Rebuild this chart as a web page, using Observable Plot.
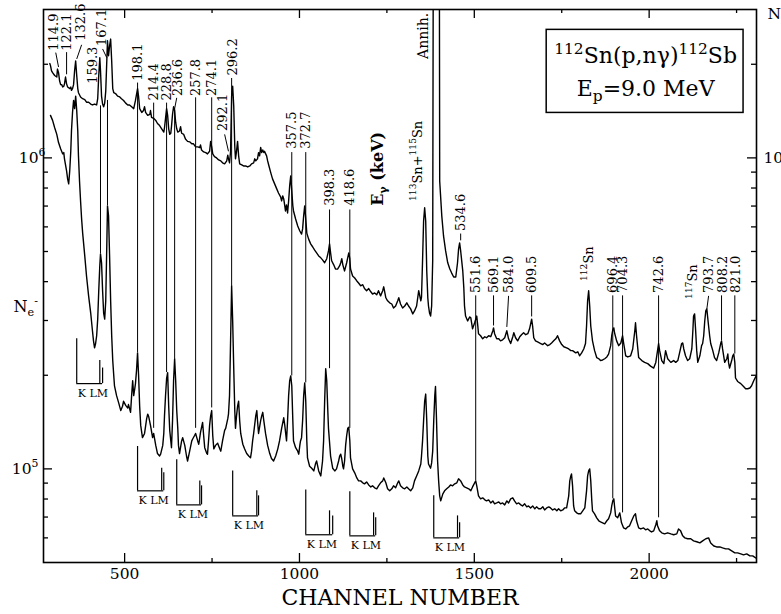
<!DOCTYPE html>
<html><head><meta charset="utf-8">
<script src="https://cdn.jsdelivr.net/npm/d3@7"></script>
<script src="https://cdn.jsdelivr.net/npm/@observablehq/plot@0.6"></script>
<style>body{margin:0;background:#fff;}</style>
</head><body>
<div id="chart"></div>
<script>
// ---------------- DATA ----------------
// gamma-ray spectrum (upper trace): [channel, counts]
const gammaSpectrum = [[286,2.01e6],[288,1.98e6],[291,1.905e6],[294,1.88e6],[300,1.84e6],[306,1.82e6],[308,1.93e6],[311,1.88e6],[314,1.77e6],[317,1.72e6],[320,1.72e6],[323,1.69e6],[326,1.70e6],[328,1.73e6],[331,1.82e6],[334,1.73e6],[337,1.69e6],[340,1.68e6],[343,1.67e6],[346,1.69e6],[348,1.65e6],[351,1.67e6],[354,1.72e6],[357,1.91e6],[360,2.05e6],[363,1.84e6],[366,1.67e6],[368,1.62e6],[374,1.57e6],[380,1.55e6],[386,1.54e6],[391,1.51e6],[397,1.51e6],[403,1.49e6],[408,1.48e6],[414,1.49e6],[420,1.48e6],[423,1.55e6],[426,1.84e6],[429,2.10e6],[431,1.91e6],[434,1.58e6],[437,1.49e6],[440,1.46e6],[443,1.50e6],[446,1.64e6],[449,2.05e6],[451,2.38e6],[454,2.13e6],[457,2.29e6],[460,2.41e6],[463,2.05e6],[466,1.67e6],[469,1.62e6],[474,1.61e6],[480,1.58e6],[486,1.57e6],[491,1.55e6],[497,1.53e6],[503,1.50e6],[509,1.48e6],[514,1.48e6],[520,1.46e6],[526,1.44e6],[531,1.53e6],[537,1.67e6],[540,1.57e6],[543,1.44e6],[549,1.40e6],[554,1.42e6],[557,1.46e6],[560,1.40e6],[566,1.37e6],[572,1.38e6],[574,1.42e6],[577,1.35e6],[583,1.34e6],[589,1.32e6],[594,1.29e6],[600,1.27e6],[606,1.24e6],[612,1.21e6],[614,1.25e6],[617,1.34e6],[620,1.44e6],[623,1.37e6],[626,1.24e6],[629,1.19e6],[632,1.20e6],[634,1.26e6],[637,1.38e6],[640,1.46e6],[643,1.42e6],[646,1.30e6],[649,1.24e6],[652,1.21e6],[657,1.22e6],[660,1.26e6],[663,1.20e6],[669,1.19e6],[674,1.15e6],[680,1.13e6],[686,1.126e6],[692,1.11e6],[697,1.11e6],[703,1.085e6],[709,1.085e6],[715,1.08e6],[717,1.10e6],[720,1.06e6],[726,1.045e6],[732,1.04e6],[737,1.03e6],[743,1.05e6],[746,1.13e6],[749,1.085e6],[752,1.03e6],[757,1.01e6],[763,1.00e6],[769,9.85e5],[775,9.78e5],[780,9.64e5],[786,9.57e5],[792,9.78e5],[795,1.02e6],[797,9.93e5],[800,9.64e5],[803,1.05e6],[806,1.58e6],[809,1.70e6],[812,1.47e6],[815,1.09e6],[817,9.93e5],[820,1.05e6],[823,1.13e6],[826,1.015e6],[829,9.57e5],[835,9.49e5],[840,9.42e5],[846,9.42e5],[852,9.35e5],[858,9.42e5],[863,9.57e5],[869,9.64e5],[872,9.93e5],[875,9.78e5],[880,9.93e5],[883,1.04e6],[886,1.015e6],[889,1.08e6],[892,1.04e6],[895,1.06e6],[898,1.04e6],[900,1.05e6],[906,1.015e6],[909,9.78e5],[912,9.49e5],[918,8.95e5],[923,8.56e5],[929,8.25e5],[935,7.95e5],[940,7.71e5],[946,7.49e5],[949,7.27e5],[952,7.55e5],[955,7.38e5],[958,7.01e5],[960,6.75e5],[963,7.06e5],[966,6.65e5],[969,7.27e5],[972,8.13e5],[975,8.75e5],[978,7.83e5],[981,7.01e5],[983,6.75e5],[989,6.36e5],[995,6.04e5],[1001,5.82e5],[1006,5.69e5],[1009,5.91e5],[1012,6.51e5],[1015,7.01e5],[1018,6.36e5],[1021,5.73e5],[1026,5.49e5],[1032,5.29e5],[1038,5.17e5],[1043,5.06e5],[1049,4.95e5],[1055,4.84e5],[1061,4.77e5],[1066,4.70e5],[1072,4.60e5],[1078,4.74e5],[1083,5.02e5],[1086,5.29e5],[1089,4.95e5],[1092,4.67e5],[1098,4.53e5],[1103,4.39e5],[1109,4.39e5],[1115,4.50e5],[1118,4.60e5],[1121,4.74e5],[1124,4.53e5],[1129,4.33e5],[1135,4.60e5],[1141,4.95e5],[1144,4.74e5],[1146,4.39e5],[1152,4.17e5],[1158,4.11e5],[1164,4.02e5],[1169,3.96e5],[1175,3.88e5],[1181,3.91e5],[1186,3.80e5],[1192,3.74e5],[1198,3.80e5],[1204,3.71e5],[1209,3.65e5],[1215,3.68e5],[1221,3.63e5],[1226,3.74e5],[1232,3.60e5],[1238,3.74e5],[1241,3.85e5],[1247,3.55e5],[1252,3.47e5],[1258,3.42e5],[1264,3.39e5],[1269,3.29e5],[1275,3.34e5],[1281,3.47e5],[1284,3.55e5],[1289,3.39e5],[1295,3.29e5],[1301,3.34e5],[1307,3.42e5],[1312,3.34e5],[1318,3.27e5],[1324,3.15e5],[1329,3.22e5],[1335,3.34e5],[1341,3.74e5],[1344,3.60e5],[1347,3.47e5],[1349,3.57e5],[1352,4.67e5],[1355,6.27e5],[1358,6.91e5],[1361,6.27e5],[1364,4.33e5],[1367,3.55e5],[1369,3.34e5],[1372,3.17e5],[1375,3.10e5],[1378,3.34e5],[1381,4.67e5],[1384,3e7],[1399,3e7],[1401,8.43e5],[1407,6.51e5],[1412,5.61e5],[1418,5.02e5],[1424,4.60e5],[1430,4.39e5],[1435,4.27e5],[1441,4.14e5],[1447,4.14e5],[1452,4.60e5],[1455,5.09e5],[1458,5.33e5],[1461,5.02e5],[1467,4.33e5],[1470,3.82e5],[1472,3.34e5],[1475,3.10e5],[1481,2.99e5],[1487,3.08e5],[1490,3.06e5],[1495,2.82e5],[1501,2.95e5],[1507,3.10e5],[1510,2.88e5],[1512,2.72e5],[1518,2.68e5],[1524,2.62e5],[1530,2.66e5],[1535,2.64e5],[1541,2.68e5],[1547,2.66e5],[1553,2.78e5],[1555,2.84e5],[1558,2.72e5],[1564,2.62e5],[1570,2.62e5],[1575,2.58e5],[1581,2.60e5],[1587,2.64e5],[1593,2.78e5],[1598,2.62e5],[1604,2.53e5],[1610,2.66e5],[1613,2.74e5],[1618,2.64e5],[1624,2.58e5],[1630,2.66e5],[1635,2.70e5],[1641,2.74e5],[1647,2.70e5],[1653,2.72e5],[1658,2.82e5],[1664,3.03e5],[1667,2.86e5],[1670,2.64e5],[1675,2.58e5],[1681,2.56e5],[1690,2.53e5],[1696,2.51e5],[1701,2.54e5],[1710,2.49e5],[1716,2.51e5],[1721,2.54e5],[1727,2.58e5],[1733,2.62e5],[1738,2.68e5],[1744,2.58e5],[1750,2.51e5],[1756,2.47e5],[1764,2.45e5],[1770,2.43e5],[1776,2.40e5],[1781,2.40e5],[1790,2.36e5],[1796,2.38e5],[1801,2.31e5],[1807,2.36e5],[1813,2.43e5],[1818,2.53e5],[1821,2.88e5],[1824,3.47e5],[1827,3.74e5],[1830,3.34e5],[1833,2.88e5],[1838,2.58e5],[1844,2.40e5],[1850,2.28e5],[1856,2.26e5],[1861,2.23e5],[1867,2.24e5],[1873,2.26e5],[1879,2.29e5],[1884,2.34e5],[1890,2.49e5],[1893,2.68e5],[1896,2.80e5],[1899,2.84e5],[1901,2.74e5],[1907,2.58e5],[1913,2.49e5],[1919,2.54e5],[1924,2.68e5],[1927,2.54e5],[1933,2.31e5],[1939,2.29e5],[1947,2.31e5],[1953,2.43e5],[1959,2.78e5],[1961,2.95e5],[1964,2.68e5],[1970,2.28e5],[1979,2.23e5],[1987,2.20e5],[1996,2.18e5],[2004,2.14e5],[2013,2.11e5],[2019,2.20e5],[2024,2.40e5],[2027,2.53e5],[2030,2.40e5],[2036,2.23e5],[2042,2.18e5],[2047,2.40e5],[2053,2.26e5],[2062,2.20e5],[2070,2.23e5],[2076,2.20e5],[2082,2.23e5],[2087,2.36e5],[2093,2.53e5],[2096,2.54e5],[2099,2.43e5],[2104,2.31e5],[2110,2.23e5],[2116,2.26e5],[2122,2.43e5],[2125,2.78e5],[2127,3.10e5],[2130,3.15e5],[2133,2.78e5],[2136,2.40e5],[2139,2.20e5],[2145,2.31e5],[2150,2.49e5],[2153,2.53e5],[2156,2.68e5],[2159,2.99e5],[2162,3.22e5],[2165,3.27e5],[2167,3.10e5],[2170,2.88e5],[2173,2.68e5],[2176,2.53e5],[2182,2.40e5],[2187,2.28e5],[2193,2.23e5],[2199,2.36e5],[2205,2.54e5],[2207,2.58e5],[2210,2.43e5],[2216,2.20e5],[2222,2.26e5],[2225,2.34e5],[2227,2.20e5],[2230,2.11e5],[2236,2.23e5],[2239,2.31e5],[2242,2.34e5],[2245,2.20e5],[2247,1.96e5],[2253,1.91e5],[2262,1.88e5],[2270,1.84e5],[2276,1.81e5],[2282,1.81e5],[2288,1.82e5],[2293,1.85e5],[2299,1.92e5],[2305,1.98e5]];

// conversion-electron spectrum (lower trace): [channel, counts]
const electronSpectrum = [[288,1.37e6],[294,1.32e6],[300,1.25e6],[306,1.19e6],[311,1.12e6],[317,1.07e6],[323,1.03e6],[326,1.04e6],[328,9.93e5],[334,9.08e5],[337,8.56e5],[340,8.25e5],[343,9.08e5],[346,1.05e6],[348,1.22e6],[351,1.40e6],[354,1.53e6],[357,1.44e6],[360,1.58e6],[363,1.42e6],[366,1.22e6],[368,1.015e6],[371,8.43e5],[374,7.27e5],[377,6.36e5],[380,5.73e5],[386,4.84e5],[391,4.17e5],[397,3.60e5],[403,3.17e5],[408,2.78e5],[411,2.58e5],[414,2.45e5],[417,2.53e5],[420,2.68e5],[423,3.03e5],[426,3.74e5],[429,4.50e5],[431,4.91e5],[434,4.60e5],[437,3.74e5],[440,3.17e5],[443,3.03e5],[446,3.47e5],[449,5.21e5],[451,7.01e5],[454,6.51e5],[457,4.84e5],[460,3.47e5],[463,2.68e5],[466,2.23e5],[469,1.99e5],[471,1.85e5],[477,1.72e5],[483,1.63e5],[489,1.54e5],[494,1.59e5],[497,1.65e5],[503,1.60e5],[509,1.57e5],[511,1.61e5],[517,1.52e5],[520,1.72e5],[523,1.92e5],[526,1.72e5],[529,1.81e5],[531,1.88e5],[534,2.07e5],[537,2.36e5],[540,1.99e5],[543,1.59e5],[546,1.38e5],[551,1.26e5],[557,1.30e5],[563,1.45e5],[566,1.50e5],[569,1.47e5],[574,1.38e5],[580,1.26e5],[583,1.30e5],[589,1.19e5],[594,1.12e5],[600,1.10e5],[603,1.115e5],[609,1.19e5],[612,1.30e5],[614,1.48e5],[617,1.72e5],[620,1.95e5],[623,2.04e5],[626,1.59e5],[629,1.33e5],[634,1.17e5],[637,1.43e5],[640,1.92e5],[643,2.26e5],[646,1.92e5],[649,1.54e5],[652,1.35e5],[654,1.19e5],[657,1.12e5],[663,1.23e5],[666,1.26e5],[672,1.19e5],[677,1.10e5],[680,1.06e5],[686,1.14e5],[692,1.23e5],[695,1.25e5],[700,1.28e5],[703,1.30e5],[709,1.23e5],[712,1.20e5],[717,1.31e5],[723,1.41e5],[726,1.28e5],[729,1.17e5],[735,1.12e5],[737,1.115e5],[740,1.23e5],[743,1.38e5],[746,1.48e5],[749,1.54e5],[752,1.28e5],[755,1.16e5],[760,1.19e5],[766,1.21e5],[772,1.16e5],[775,1.14e5],[780,1.23e5],[786,1.33e5],[789,1.35e5],[795,1.45e5],[797,1.50e5],[800,1.72e5],[803,2.58e5],[806,3.88e5],[809,2.99e5],[812,2.11e5],[815,1.54e5],[817,1.35e5],[820,1.48e5],[823,1.59e5],[826,1.65e5],[829,1.43e5],[832,1.30e5],[838,1.20e5],[843,1.16e5],[849,1.12e5],[855,1.10e5],[860,1.085e5],[863,1.14e5],[866,1.23e5],[869,1.30e5],[875,1.48e5],[878,1.54e5],[880,1.43e5],[883,1.30e5],[889,1.43e5],[892,1.48e5],[895,1.52e5],[898,1.43e5],[903,1.30e5],[909,1.19e5],[915,1.12e5],[920,1.08e5],[926,1.06e5],[932,1.10e5],[938,1.16e5],[943,1.23e5],[949,1.35e5],[955,1.46e5],[958,1.38e5],[963,1.23e5],[966,1.43e5],[969,1.72e5],[972,1.92e5],[975,1.99e5],[978,1.85e5],[981,1.43e5],[983,1.23e5],[989,1.17e5],[995,1.14e5],[998,1.115e5],[1001,1.19e5],[1003,1.23e5],[1006,1.26e5],[1009,1.43e5],[1012,1.72e5],[1015,1.89e5],[1018,1.65e5],[1021,1.23e5],[1023,1.085e5],[1029,1.02e5],[1035,1.005e5],[1041,9.85e4],[1046,1.04e5],[1049,1.06e5],[1055,9.85e4],[1061,9.49e4],[1066,1.06e5],[1069,1.23e5],[1072,1.65e5],[1075,2.10e5],[1078,1.92e5],[1081,1.54e5],[1083,1.35e5],[1089,1.10e5],[1095,1.005e5],[1101,9.85e4],[1106,1.00e5],[1112,1.06e5],[1115,1.10e5],[1118,1.115e5],[1121,1.076e5],[1124,1.02e5],[1126,1.00e5],[1129,1.06e5],[1132,1.19e5],[1135,1.28e5],[1138,1.35e5],[1141,1.36e5],[1144,1.23e5],[1146,1.085e5],[1152,1.00e5],[1158,9.71e4],[1164,9.35e4],[1169,9.15e4],[1175,9.15e4],[1181,9.02e4],[1186,8.95e4],[1192,9.08e4],[1198,8.88e4],[1204,8.75e4],[1209,8.82e4],[1215,8.69e4],[1221,8.63e4],[1226,8.82e4],[1232,9.02e4],[1238,9.15e4],[1241,9.35e4],[1247,9.02e4],[1252,8.63e4],[1258,8.50e4],[1264,8.63e4],[1269,8.82e4],[1275,8.69e4],[1281,9.02e4],[1284,9.15e4],[1289,8.82e4],[1295,8.69e4],[1301,8.63e4],[1307,8.75e4],[1312,8.63e4],[1318,8.50e4],[1324,8.69e4],[1329,9.15e4],[1335,9.49e4],[1341,9.85e4],[1347,1.037e5],[1349,1.10e5],[1352,1.23e5],[1355,1.43e5],[1358,1.65e5],[1361,1.74e5],[1364,1.43e5],[1367,1.10e5],[1369,1.037e5],[1375,1.005e5],[1378,1.045e5],[1381,1.14e5],[1384,1.43e5],[1387,1.72e5],[1389,1.84e5],[1392,1.43e5],[1395,1.06e5],[1398,9.15e4],[1401,8.19e4],[1404,7.89e4],[1410,8.31e4],[1415,8.50e4],[1421,8.63e4],[1427,8.75e4],[1432,8.88e4],[1438,8.82e4],[1444,8.95e4],[1450,9.02e4],[1455,9.29e4],[1461,9.15e4],[1467,8.88e4],[1472,8.75e4],[1478,8.69e4],[1484,8.63e4],[1490,8.50e4],[1495,8.75e4],[1501,9.02e4],[1504,9.15e4],[1507,8.82e4],[1512,8.19e4],[1518,8.01e4],[1524,8.07e4],[1530,7.95e4],[1535,7.89e4],[1541,7.95e4],[1547,7.77e4],[1553,7.89e4],[1558,7.72e4],[1564,7.77e4],[1570,7.83e4],[1575,7.72e4],[1581,7.77e4],[1587,7.66e4],[1593,7.89e4],[1598,7.77e4],[1604,8.01e4],[1610,8.07e4],[1615,7.89e4],[1621,7.72e4],[1627,7.77e4],[1633,7.66e4],[1638,7.60e4],[1644,7.72e4],[1650,7.55e4],[1655,7.60e4],[1661,7.49e4],[1667,7.60e4],[1673,7.44e4],[1678,7.55e4],[1684,7.44e4],[1690,7.44e4],[1696,7.55e4],[1701,7.38e4],[1707,7.49e4],[1713,7.55e4],[1718,7.49e4],[1724,7.38e4],[1730,7.44e4],[1736,7.33e4],[1741,7.44e4],[1747,7.33e4],[1753,7.38e4],[1758,7.49e4],[1764,7.49e4],[1770,8.19e4],[1773,9.15e4],[1776,9.49e4],[1778,9.63e4],[1781,8.82e4],[1784,7.60e4],[1787,7.33e4],[1793,7.22e4],[1798,7.17e4],[1804,7.17e4],[1810,7.33e4],[1816,7.49e4],[1821,8.50e4],[1824,9.49e4],[1827,9.85e4],[1830,1.00e5],[1833,9.15e4],[1836,7.89e4],[1838,7.33e4],[1844,7.17e4],[1850,6.96e4],[1856,6.81e4],[1861,6.76e4],[1867,6.71e4],[1873,6.66e4],[1879,6.81e4],[1884,6.91e4],[1890,7.22e4],[1893,7.60e4],[1896,7.89e4],[1899,8.01e4],[1901,7.60e4],[1904,7.06e4],[1910,6.96e4],[1916,7.22e4],[1919,6.91e4],[1921,6.71e4],[1927,6.46e4],[1933,6.41e4],[1939,6.51e4],[1944,6.56e4],[1950,6.81e4],[1956,7.06e4],[1961,7.17e4],[1964,6.81e4],[1970,6.46e4],[1976,6.41e4],[1984,6.46e4],[1990,6.37e4],[1996,6.41e4],[2002,6.32e4],[2007,6.27e4],[2013,6.32e4],[2019,6.61e4],[2022,6.81e4],[2024,6.56e4],[2030,6.32e4],[2036,6.23e4],[2044,6.18e4],[2053,6.23e4],[2062,6.18e4],[2070,6.14e4],[2079,6.18e4],[2084,6.41e4],[2090,6.32e4],[2096,6.09e4],[2102,6.00e4],[2110,5.96e4],[2119,5.96e4],[2127,5.87e4],[2136,5.83e4],[2145,5.78e4],[2153,5.87e4],[2162,5.96e4],[2170,6.00e4],[2176,5.78e4],[2185,5.65e4],[2193,5.61e4],[2202,5.61e4],[2210,5.57e4],[2219,5.53e4],[2227,5.53e4],[2236,5.45e4],[2245,5.37e4],[2253,5.37e4],[2262,5.33e4],[2270,5.29e4],[2279,5.33e4],[2288,5.25e4],[2296,5.25e4],[2305,5.17e4]];

// gamma energy labels: [text, channel, counts at text foot]
const energyLabels = [["114.9",297,2.21e6],["122.1",334,2.21e6],["132.6",374,2.38e6],["159.3",408,1.73e6],["167.1",434,2.29e6],["198.1",537,1.77e6],["214.4",583,1.53e6],["228.8",620,1.53e6],["236.6",652,1.58e6],["257.8",703,1.58e6],["274.1",749,1.58e6],["292.1",780,1.22e6],["296.2",809,1.84e6],["357.5",978,1.07e6],["372.7",1018,1.07e6],["398.3",1086,7.01e5],["418.6",1144,7.01e5],["534.6",1461,5.82e5],["551.6",1504,3.68e5],["569.1",1555,3.68e5],["584.0",1598,3.68e5],["609.5",1664,3.68e5],["696.4",1896,3.68e5],["704.3",1924,3.68e5],["742.6",2027,3.68e5],["793.7",2170,3.68e5],["808.2",2210,3.68e5],["821.0",2247,3.68e5]];
const isotopeLabels = [["^{112}Sn",1827,4.02e5],["^{117}Sn",2125,3.52e5],["^{113}Sn+^{115}Sn",1338,7.27e5]];
const annihLabel = [["Annih.",1355,2.08e6]];
const energyAxisLabel = [["E_{γ} (keV)",1224,7.01e5]];

// vertical connector lines: [channel, top counts, bottom counts]
const connectorLines = [[334,2.18e6,1.85e6],[431,1.47e6,4.91e5],[451,1.53e6,7.01e5],[537,1.74e6,2.36e5],[583,1.50e6,1.35e5],[620,1.50e6,2.04e5],[643,1.44e6,2.26e5],[703,1.56e6,1.35e5],[749,1.56e6,1.57e5],[806,1.80e6,3.88e5],[978,1.04e6,1.99e5],[1018,1.04e6,1.89e5],[1086,6.80e5,2.10e5],[1144,6.80e5,1.35e5],[1461,5.69e5,5.41e5],[1504,3.60e5,9.15e4],[1555,3.60e5,2.88e5],[1664,3.60e5,3.08e5],[1896,3.60e5,8.01e4],[1924,3.60e5,7.22e4],[2027,3.60e5,6.96e4],[2207,3.60e5,2.58e5],[2245,3.60e5,2.34e5]];
// slanted leaders: [ch1, counts1, ch2, counts2]
const leaderLines = [[303,2.18e6,311,1.96e6],[377,2.31e6,363,2.08e6],[437,2.24e6,449,2.10e6],[649,1.56e6,643,1.44e6],[786,1.19e6,797,1.05e6],[1598,3.60e5,1593,2.86e5],[2170,3.60e5,2165,3.27e5]];

// K, L, M conversion markers: [K ch, L ch, M ch, K top, L top, M top, base]
const klmMarkers = [[363,429,437,2.62e5,2.23e5,2.11e5,1.88e5],[537,606,612,1.18e5,1.005e5,9.71e4,8.50e4],[649,715,720,1.07e5,9.15e4,8.82e4,7.66e4],[809,878,883,9.85e4,8.50e4,8.19e4,7.06e4],[1018,1086,1095,8.56e4,7.33e4,7.06e4,6.14e4],[1144,1212,1218,8.44e4,7.22e4,6.96e4,6.09e4],[1384,1452,1458,8.19e4,7.06e4,6.71e4,6.00e4]];
const klmText = "K LM";

// reaction box
const reactionBox = [[1707,2270,1.395e6,2.58e6]];
const reactionText = [["^{112}Sn(p,nγ)^{112}Sb",1990,2.13e6],["E_{p}=9.0 MeV",1990,1.67e6]];

// axes
const xDomain = [268, 2307];
const yDomain = [5e4, 3e6];
const xMajorTicks = [500, 1000, 1500, 2000];
const xTickLabels = ["500", "1000", "1500", "2000"];
const xMinorTicks = [750, 1250, 1750, 2250];
const yMajorTicks = [1e5, 1e6];
const yTickLabels = ["10^{5}", "10^{6}"];
const yMinorTicks = [6e4, 7e4, 8e4, 9e4, 2e5, 3e5, 4e5, 5e5, 6e5, 7e5, 8e5, 9e5, 2e6];
const xTitle = "CHANNEL NUMBER";
const yTitle = "N_{e}^{-}";
const rightAxisFragments = [["10^{6}", 1e6, 7], ["N", 2.9e6, 11]];

// ---------------- LAYOUT ----------------
const W = 781, H = 614, mL = 43, mR = 25, mT = 9, mB = 52;
const FW = W - mL - mR, FH = H - mT - mB;
const xLab = new Map(xMajorTicks.map((t, i) => [t, xTickLabels[i]]));
const yLab = new Map(yMajorTicks.map((t, i) => [t, yTickLabels[i]]));
const font = "'DejaVu Serif', serif";

const chart = Plot.plot({
  width: W, height: H, marginLeft: mL, marginRight: mR, marginTop: mT, marginBottom: mB,
  style: {fontFamily: font, fontSize: "15.5px", background: "white", color: "black", overflow: "visible"},
  x: {domain: xDomain, ticks: xMajorTicks, tickFormat: d => xLab.get(d), tickSize: 0, tickPadding: 5, label: null},
  y: {type: "log", domain: yDomain, ticks: yMajorTicks, tickFormat: d => yLab.get(d), tickSize: 0, tickPadding: 5, label: null},
  marks: [
    // ticks (inward) on all four sides
    Plot.tickX(xMajorTicks, {x: d => d, insetTop: FH - 9, strokeWidth: 1.3}),
    Plot.tickX(xMinorTicks, {x: d => d, insetTop: FH - 4, strokeWidth: 1.3}),
    Plot.tickX(xMajorTicks, {x: d => d, insetBottom: FH - 9, strokeWidth: 1.3}),
    Plot.tickX(xMinorTicks, {x: d => d, insetBottom: FH - 4, strokeWidth: 1.3}),
    Plot.tickY(yMajorTicks, {y: d => d, insetRight: FW - 9, strokeWidth: 1.3}),
    Plot.tickY(yMinorTicks, {y: d => d, insetRight: FW - 5, strokeWidth: 1.3}),
    Plot.tickY(yMajorTicks, {y: d => d, insetLeft: FW - 9, strokeWidth: 1.3}),
    Plot.tickY(yMinorTicks, {y: d => d, insetLeft: FW - 5, strokeWidth: 1.3}),
    // spectra
    Plot.line(gammaSpectrum, {x: d => d[0], y: d => d[1], stroke: "black", strokeWidth: 1.4, clip: true}),
    Plot.line(electronSpectrum, {x: d => d[0], y: d => d[1], stroke: "black", strokeWidth: 1.4, clip: true}),
    // connectors and leaders
    Plot.ruleX(connectorLines, {x: d => d[0], y1: d => d[1], y2: d => d[2], stroke: "black", strokeWidth: 1}),
    Plot.link(leaderLines, {x1: d => d[0], y1: d => d[1], x2: d => d[2], y2: d => d[3], stroke: "black", strokeWidth: 1}),
    // labels
    Plot.text(energyLabels, {x: d => d[1], y: d => d[2], text: d => d[0], rotate: -90, textAnchor: "start", fontSize: 13}),
    Plot.text(isotopeLabels, {x: d => d[1], y: d => d[2], text: d => d[0], rotate: -90, textAnchor: "start", fontSize: 13}),
    Plot.text(annihLabel, {x: d => d[1], y: d => d[2], text: d => d[0], rotate: -90, textAnchor: "start", fontSize: 14}),
    Plot.text(energyAxisLabel, {x: d => d[1], y: d => d[2], text: d => d[0], rotate: -90, textAnchor: "start", fontSize: 16, fontWeight: "bold"}),
    // K LM markers
    Plot.ruleX(klmMarkers, {x: d => d[0], y1: d => d[3], y2: d => d[6], stroke: "black", strokeWidth: 1.2}),
    Plot.ruleX(klmMarkers, {x: d => d[1], y1: d => d[4], y2: d => d[6], stroke: "black", strokeWidth: 1.2}),
    Plot.ruleX(klmMarkers, {x: d => d[2], y1: d => d[5], y2: d => d[6], stroke: "black", strokeWidth: 1.2}),
    Plot.ruleY(klmMarkers, {y: d => d[6], x1: d => d[0], x2: d => d[2], stroke: "black", strokeWidth: 1.2}),
    Plot.text(klmMarkers, {x: d => d[0], y: d => d[6], text: () => klmText, textAnchor: "start", dy: 10, dx: 1, fontSize: 11}),
    // reaction box
    Plot.rect(reactionBox, {x1: d => d[0], x2: d => d[1], y1: d => d[2], y2: d => d[3], fill: "white", stroke: "black", strokeWidth: 1.5}),
    Plot.text(reactionText, {x: d => d[1], y: d => d[2], text: d => d[0], fontSize: 22}),
    // titles
    Plot.text([xTitle], {frameAnchor: "bottom", text: d => d, dy: 42, fontSize: 22}),
    Plot.text([yTitle], {frameAnchor: "left", y: () => 3.32e5, text: d => d, textAnchor: "start", dx: -30, fontSize: 16}),
    Plot.text(rightAxisFragments, {frameAnchor: "right", y: d => d[1], text: d => d[0], textAnchor: "start", fontSize: 15.5}),
    Plot.frame({stroke: "black", strokeWidth: 1.6})
  ]
});
document.getElementById("chart").appendChild(chart);

// superscript / subscript rendering
const NS = "http://www.w3.org/2000/svg";
function richify(svg) {
  for (const el of svg.querySelectorAll("text")) {
    const s = el.textContent;
    if (!/[\^_]\{/.test(s)) continue;
    const fs = parseFloat(getComputedStyle(el).fontSize) || 13;
    el.textContent = "";
    const re = /([\^_])\{([^}]*)\}/g;
    let last = 0, m, cur = 0;
    const add = (t, kind) => {
      if (!t) return;
      const ts = document.createElementNS(NS, "tspan");
      const target = kind === "^" ? -0.42 * fs : kind === "_" ? 0.24 * fs : 0;
      if (target !== cur) ts.setAttribute("dy", (target - cur).toFixed(2));
      cur = target;
      if (kind) ts.setAttribute("font-size", (0.7 * fs).toFixed(2));
      ts.textContent = t;
      el.appendChild(ts);
    };
    while ((m = re.exec(s))) { add(s.slice(last, m.index), ""); add(m[2], m[1]); last = re.lastIndex; }
    add(s.slice(last), "");
  }
}
// right-axis fragments: apply their horizontal offsets
for (const el of chart.querySelectorAll("text")) {
  const frag = rightAxisFragments.find(f => f[0] === el.textContent);
  if (frag) el.setAttribute("x", frag[2]);
}
richify(chart);
</script>
</body></html>
